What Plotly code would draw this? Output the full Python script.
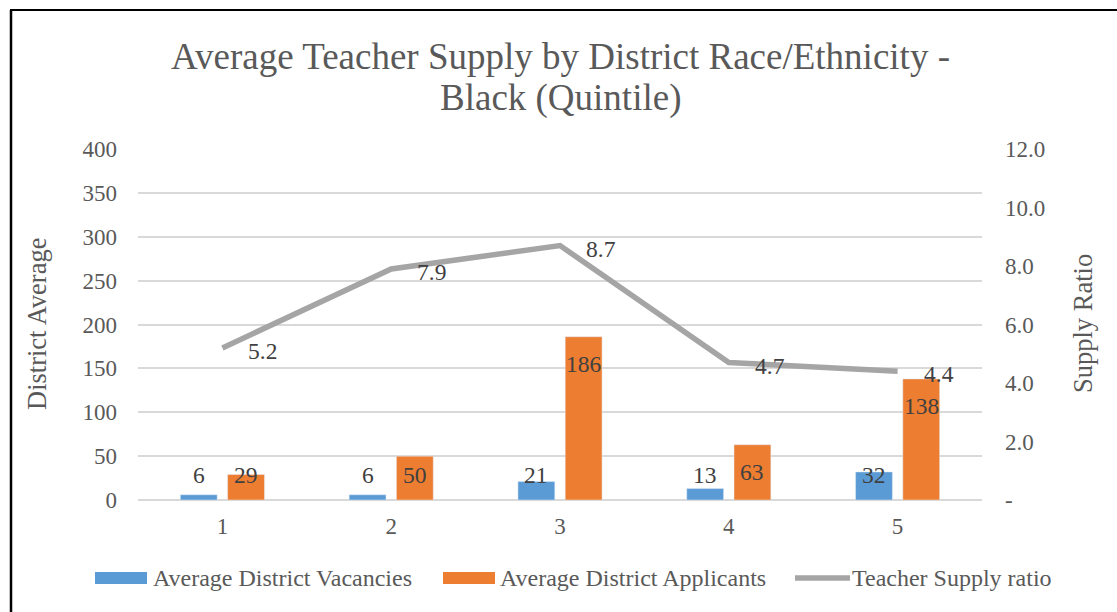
import plotly.graph_objects as go

categories = ["1", "2", "3", "4", "5"]
vacancies = [6, 6, 21, 13, 32]
applicants = [29, 50, 186, 63, 138]
supply_ratio = [5.2, 7.9, 8.7, 4.7, 4.4]
left_ticks = [0, 50, 100, 150, 200, 250, 300, 350, 400]
right_ticks = [0, 2, 4, 6, 8, 10, 12]
right_tick_labels = ["-", "2.0", "4.0", "6.0", "8.0", "10.0", "12.0"]
title_lines = ["Average Teacher Supply by District Race/Ethnicity -", "Black (Quintile)"]

BLUE = "#5B9BD5"
ORANGE = "#ED7D31"
GRAY = "#A5A5A5"
TXT = "#595959"
LBL = "#404040"
FONT = "Liberation Serif, Times New Roman, serif"

W, H = 1117, 612
L, R, T, B = 138, 135, 149, 112
PW, PH = W - L - R, H - T - B

fig = go.Figure()
fig.add_trace(go.Bar(x=categories, y=vacancies, name="Average District Vacancies",
                     marker=dict(color=BLUE), yaxis="y", showlegend=False))
fig.add_trace(go.Bar(x=categories, y=applicants, name="Average District Applicants",
                     marker=dict(color=ORANGE), yaxis="y", showlegend=False))
fig.add_trace(go.Scatter(x=categories, y=supply_ratio, name="Teacher Supply ratio",
                         mode="lines", line=dict(color=GRAY, width=5.5),
                         yaxis="y2", showlegend=False))

ann = []
# bar labels (inside end, kept above the baseline)
px_per_unit = PH / 400.0
def label_y(v):
    return max(v - 27 / px_per_unit, 25 / px_per_unit)

LF = dict(family=FONT, size=23.5, color=LBL)
for i, c in enumerate(categories):
    ann.append(dict(x=i, y=label_y(vacancies[i]), xref="x", yref="y", text=str(vacancies[i]),
                    showarrow=False, xshift=-23.6, font=LF))
    ann.append(dict(x=i, y=label_y(applicants[i]), xref="x", yref="y", text=str(applicants[i]),
                    showarrow=False, xshift=23.6, font=LF))
    ann.append(dict(x=i, y=supply_ratio[i], xref="x", yref="y2", text=f"{supply_ratio[i]:.1f}",
                    showarrow=False, xanchor="left", xshift=24, yshift=-3, font=LF))

def px(xp):
    return (xp - L) / PW
def py(yp):
    return (H - B - yp) / PH

# title (two lines)
for text, yc in zip(title_lines, [56, 98]):
    ann.append(dict(x=0.5, y=py(yc), xref="paper", yref="paper", text=text, showarrow=False,
                    xanchor="center", yanchor="middle", font=dict(family=FONT, size=37, color=TXT)))

# legend
legend_items = [
    ("rect", BLUE, 95, 147, 151, "Average District Vacancies"),
    ("rect", ORANGE, 443, 495, 498, "Average District Applicants"),
    ("line", GRAY, 795, 850, 850, "Teacher Supply ratio"),
]
shapes = []
for kind, col, x0, x1, tx, label in legend_items:
    if kind == "rect":
        shapes.append(dict(type="rect", xref="paper", yref="paper", x0=px(x0), x1=px(x1),
                           y0=py(584), y1=py(572), fillcolor=col, line=dict(width=0)))
    else:
        shapes.append(dict(type="line", xref="paper", yref="paper", x0=px(x0), x1=px(x1),
                           y0=py(578), y1=py(578), line=dict(color=col, width=5.5)))
    ann.append(dict(x=px(tx), y=py(578), xref="paper", yref="paper", text=label, showarrow=False,
                    xanchor="left", yanchor="middle", font=dict(family=FONT, size=24, color=TXT)))

# frame (top and left borders)
shapes.append(dict(type="line", xref="paper", yref="paper", x0=px(10), x1=px(1117), y0=py(10), y1=py(10),
                   line=dict(color="black", width=2)))
shapes.append(dict(type="line", xref="paper", yref="paper", x0=px(11), x1=px(11), y0=py(10), y1=py(612),
                   line=dict(color="black", width=2.5)))

# axis titles
ann.append(dict(x=px(37), y=py(324), xref="paper", yref="paper", text="District Average", textangle=-90,
                showarrow=False, xanchor="center", yanchor="middle",
                font=dict(family=FONT, size=26.5, color=TXT)))
ann.append(dict(x=px(1083), y=py(324), xref="paper", yref="paper", text="Supply Ratio", textangle=-90,
                showarrow=False, xanchor="center", yanchor="middle",
                font=dict(family=FONT, size=26.5, color=TXT)))

fig.update_layout(
    width=W, height=H,
    margin=dict(l=L, r=R, t=T, b=B, autoexpand=False),
    paper_bgcolor="white", plot_bgcolor="white",
    font=dict(family=FONT, color=TXT),
    barmode="group", bargap=0.44, bargroupgap=0.22,
    xaxis=dict(type="category", range=[-0.5, 4.5], showgrid=False, showline=False, zeroline=False,
               ticks="", tickfont=dict(family=FONT, size=23, color=TXT), ticklabelstandoff=10),
    yaxis=dict(range=[0, 400], tickvals=left_ticks, showgrid=True, gridcolor="#D9D9D9", gridwidth=1.5,
               zeroline=True, zerolinecolor="#D9D9D9", zerolinewidth=1.5, showline=False, ticks="",
               tickfont=dict(family=FONT, size=23, color=TXT), ticklabelstandoff=20),
    yaxis2=dict(range=[0, 12], tickvals=right_ticks, ticktext=right_tick_labels, overlaying="y",
                side="right", showgrid=False, zeroline=False, showline=False, ticks="",
                tickfont=dict(family=FONT, size=23, color=TXT), ticklabelstandoff=22),
    annotations=ann, shapes=shapes,
)

fig.write_html("out.html", config={"displayModeBar": False},
               post_script="document.body.style.margin='0';")
